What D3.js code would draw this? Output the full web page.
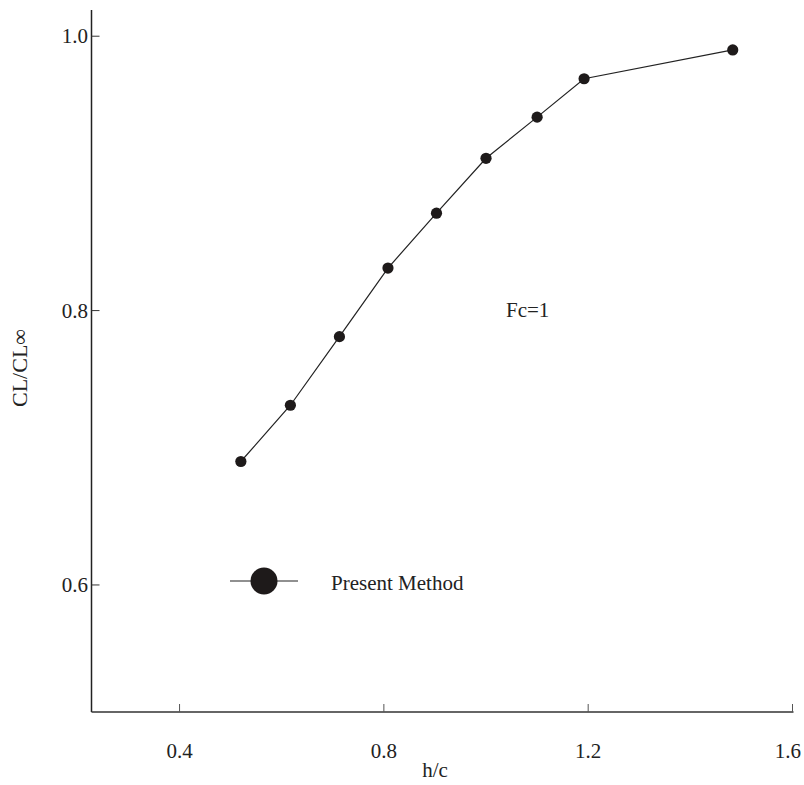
<!DOCTYPE html>
<html>
<head>
<meta charset="utf-8">
<script src="https://cdn.jsdelivr.net/npm/d3@7"></script>
<style>
  body { margin: 0; background: #fff; }
  text { font-family: "Liberation Serif", "Times New Roman", serif; fill: #222; }
</style>
</head>
<body>
<svg id="chart" width="804" height="785"></svg>
<script>
const hc = [0.52, 0.617, 0.713, 0.808, 0.903, 1.0, 1.1, 1.192, 1.483];
const clRatio = [0.69, 0.731, 0.781, 0.831, 0.871, 0.911, 0.941, 0.969, 0.99];
const xTicks = [0.4, 0.8, 1.2, 1.6];
const yTicks = [0.6, 0.8, 1.0];
const seriesName = "Present Method";
const annotation = "Fc=1";

(function () {
const svg = d3.select("#chart");
const mLeft = 91.5, mRight = 792.5, mTop = 10, mBottom = 712;
const fs = 21;

const x = d3.scaleLinear().domain([0.2276, 1.6]).range([mLeft, mRight]);
const y = d3.scaleLinear().domain([0.5074, 1.0191]).range([mBottom, mTop]);

// axes lines
svg.append("line").attr("x1", mLeft).attr("x2", mLeft).attr("y1", mTop).attr("y2", mBottom)
  .attr("stroke", "#222").attr("stroke-width", 1.5);
svg.append("line").attr("x1", mLeft).attr("x2", mRight + 1).attr("y1", mBottom).attr("y2", mBottom)
  .attr("stroke", "#333").attr("stroke-width", 1.5);

// x ticks
const xg = svg.append("g");
xTicks.forEach(t => {
  xg.append("line").attr("x1", x(t)).attr("x2", x(t)).attr("y1", mBottom).attr("y2", mBottom - 8)
    .attr("stroke", "#555").attr("stroke-width", 1);
  const lbl = xg.append("text").attr("x", x(t)).attr("y", 758).attr("text-anchor", "middle")
    .attr("font-size", fs).text(d3.format(".1f")(t));
  const bb = lbl.node().getBBox();
  if (bb.x + bb.width > 801) lbl.attr("text-anchor", "end").attr("x", 801);
});
// y ticks
const yg = svg.append("g");
yTicks.forEach(t => {
  yg.append("line").attr("x1", mLeft).attr("x2", mLeft + 8).attr("y1", y(t)).attr("y2", y(t))
    .attr("stroke", "#333").attr("stroke-width", 1);
  yg.append("text").attr("x", 88).attr("y", y(t) + 7).attr("text-anchor", "end")
    .attr("font-size", fs).text(d3.format(".1f")(t));
});

// axis titles
svg.append("text").attr("x", 435).attr("y", 777).attr("text-anchor", "middle")
  .attr("font-size", fs).text("h/c");
svg.append("text").attr("transform", "translate(27,368) rotate(-90)").attr("text-anchor", "middle")
  .attr("font-size", 22).text("CL/CL\u221E");

// series
const data = hc.map((v, i) => ({x: v, y: clRatio[i]}));
svg.append("path").datum(data)
  .attr("d", d3.line().x(d => x(d.x)).y(d => y(d.y)))
  .attr("fill", "none").attr("stroke", "#222").attr("stroke-width", 1.2);
svg.selectAll("circle.pt").data(data).enter().append("circle").attr("class", "pt")
  .attr("cx", d => x(d.x)).attr("cy", d => y(d.y)).attr("r", 5.6).attr("fill", "#1e1a1a");

// annotation
svg.append("text").attr("x", 506).attr("y", 317).attr("font-size", fs).text(annotation);

// legend
svg.append("line").attr("x1", 230).attr("x2", 298).attr("y1", 581).attr("y2", 581)
  .attr("stroke", "#222").attr("stroke-width", 1.2);
svg.append("circle").attr("cx", 264).attr("cy", 581).attr("r", 13.5).attr("fill", "#1e1a1a");
svg.append("text").attr("x", 331).attr("y", 590).attr("font-size", fs).text(seriesName);
})();
</script>
</body>
</html>
